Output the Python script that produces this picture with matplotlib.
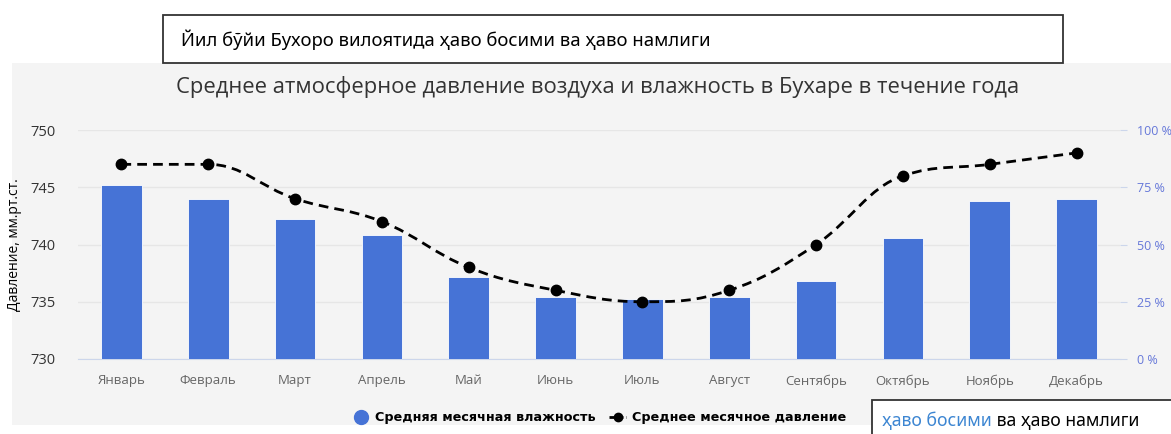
import numpy as np
import matplotlib
matplotlib.use("Agg")
import matplotlib.pyplot as plt
from matplotlib.patches import Rectangle
from matplotlib.path import Path
from matplotlib.patches import PathPatch
from matplotlib.lines import Line2D

months = ["Январь", "Февраль", "Март", "Апрель", "Май", "Июнь",
          "Июль", "Август", "Сентябрь", "Октябрь", "Ноябрь", "Декабрь"]
humidity = [76, 70, 61, 54, 36, 27, 26, 27, 34, 53, 69, 70]
pressure = [747, 747, 744, 742, 738, 736, 735, 736, 740, 746, 747, 748]

header = "Йил бўйи Бухоро вилоятида ҳаво босими ва ҳаво намлиги"
title = "Среднее атмосферное давление воздуха и влажность в Бухаре в течение года"
footer_blue = "ҳаво босими"
footer_black = " ва ҳаво намлиги"

W, H = 1171, 434
BAR_COLOR = "#4673d6"
FONT = "Open Sans"


def fx(px):
    return px / W


def fy(py):
    return 1 - py / H


def spline_path(xs, ys, smoothing=1.5):
    # highcharts-like spline through the points
    denom = smoothing + 1
    n = len(xs)
    left = [(xs[i], ys[i]) for i in range(n)]
    right = [(xs[i], ys[i]) for i in range(n)]
    for i in range(1, n - 1):
        x, y = xs[i], ys[i]
        lx, ly = xs[i - 1], ys[i - 1]
        nx, ny = xs[i + 1], ys[i + 1]
        lcx = (smoothing * x + lx) / denom
        lcy = (smoothing * y + ly) / denom
        rcx = (smoothing * x + nx) / denom
        rcy = (smoothing * y + ny) / denom
        corr = (rcy - lcy) * (rcx - x) / (rcx - lcx) + y - rcy
        lcy += corr
        rcy += corr
        if lcy > ly and lcy > y:
            lcy = max(ly, y)
            rcy = 2 * y - lcy
        elif lcy < ly and lcy < y:
            lcy = min(ly, y)
            rcy = 2 * y - lcy
        if rcy > ny and rcy > y:
            rcy = max(ny, y)
            lcy = 2 * y - rcy
        elif rcy < ny and rcy < y:
            rcy = min(ny, y)
            lcy = 2 * y - rcy
        left[i] = (lcx, lcy)
        right[i] = (rcx, rcy)
    verts = [(xs[0], ys[0])]
    codes = [Path.MOVETO]
    for i in range(1, n):
        verts += [right[i - 1], left[i], (xs[i], ys[i])]
        codes += [Path.CURVE4] * 3
    return Path(verts, codes)


fig = plt.figure(figsize=(W / 100, H / 100), dpi=100)
fig.patch.set_facecolor("white")

# grey chart panel
fig.add_artist(Rectangle((fx(12), fy(425)), fx(1171 - 12), (425 - 63) / H,
                         transform=fig.transFigure, facecolor="#f4f4f4",
                         edgecolor="none", zorder=0))

ax_l, ax_r, ax_t, ax_b = 78, 1120, 130, 359
ax2 = fig.add_axes([fx(ax_l), fy(ax_b), fx(ax_r - ax_l), (ax_b - ax_t) / H])
ax = ax2.twinx()
ax2.yaxis.tick_right()
ax2.yaxis.set_label_position("right")
ax.yaxis.tick_left()
ax.yaxis.set_label_position("left")

x = np.arange(len(months))
ax2.set_facecolor("none")
ax2.bar(x, humidity, width=0.47, color=BAR_COLOR, edgecolor="white",
        linewidth=0.6, zorder=3)
ax2.set_ylim(0, 100)
ax2.set_yticks([0, 25, 50, 75, 100])
ax2.set_yticklabels([f"{v} %" for v in [0, 25, 50, 75, 100]])
ax2.grid(axis="y", color="#e6e6e6", linewidth=1, zorder=0)
ax2.set_axisbelow(True)
ax2.tick_params(axis="y", which="both", right=True, left=False, length=5,
                color="#ccd6eb", labelcolor="#6678d9", labelsize=9, pad=7)
ax2.set_xlim(-0.5, len(months) - 0.5)
ax2.set_xticks(x)
ax2.set_xticklabels(months)
ax2.tick_params(axis="x", length=0, labelcolor="#666666", labelsize=9.5, pad=11)
for lbl in ax2.get_xticklabels() + ax2.get_yticklabels():
    lbl.set_family(FONT)
for s in ["top", "left", "right"]:
    ax2.spines[s].set_visible(False)
ax2.spines["bottom"].set_color("#ccd6eb")

ax.set_ylim(730, 750)
ax.set_yticks([730, 735, 740, 745, 750])
ax.tick_params(axis="y", length=0, labelcolor="#333333", labelsize=10.5, pad=16)
for lbl in ax.get_yticklabels():
    lbl.set_family(FONT)
for s in ax.spines.values():
    s.set_visible(False)
ax.set_ylabel("Давление, мм.рт.ст.", fontsize=10, family=FONT, color="black",
              labelpad=6)

ax.add_patch(PathPatch(spline_path(list(x), pressure), facecolor="none",
                       edgecolor="black", linewidth=2, linestyle=(0, (3.5, 2.2)),
                       zorder=4))
ax.plot(x, pressure, linestyle="none", marker="o", color="black",
        markersize=7.5, zorder=5)

# title
fig.text(fx(598), fy(87), title, ha="center", va="center", fontsize=15.8,
         family=FONT, color="#333333")

# header box
fig.add_artist(Rectangle((fx(163), fy(63)), fx(1063 - 163), (63 - 15) / H,
                         transform=fig.transFigure, facecolor="white",
                         edgecolor="#333333", linewidth=1.3, zorder=5))
fig.text(fx(181), fy(40), header, ha="left", va="center", fontsize=13.3,
         family="Noto Sans", color="black", zorder=6)

# legend
handles = [Line2D([], [], linestyle="none", marker="o", color=BAR_COLOR,
                  markersize=10),
           Line2D([], [], color="black", linestyle=(0, (2, 1)), linewidth=2,
                  marker="o", markersize=6)]
fig.legend(handles, ["Средняя месячная влажность", "Среднее месячное давление"],
           loc="center", bbox_to_anchor=(fx(599), fy(418)), ncol=2,
           frameon=False, handlelength=1.4, handletextpad=0.4, columnspacing=1.0,
           prop={"family": "Liberation Sans Narrow", "weight": "bold", "size": 9.2})

# footer box
fig.add_artist(Rectangle((fx(872), fy(440)), fx(1171 - 872) + 0.01, (440 - 400) / H,
                         transform=fig.transFigure, facecolor="white",
                         edgecolor="#333333", linewidth=1.3, zorder=5))
t1 = fig.text(fx(882), fy(421), footer_blue, ha="left", va="center",
              fontsize=12.7, family="Noto Sans", color="#3d86d2", zorder=6)
fig.canvas.draw()
bb = t1.get_window_extent(renderer=fig.canvas.get_renderer())
fig.text(bb.x1 / W, fy(421), footer_black, ha="left", va="center",
         fontsize=12.7, family="Noto Sans", color="black", zorder=6)

fig.savefig("out.png", dpi=100)
